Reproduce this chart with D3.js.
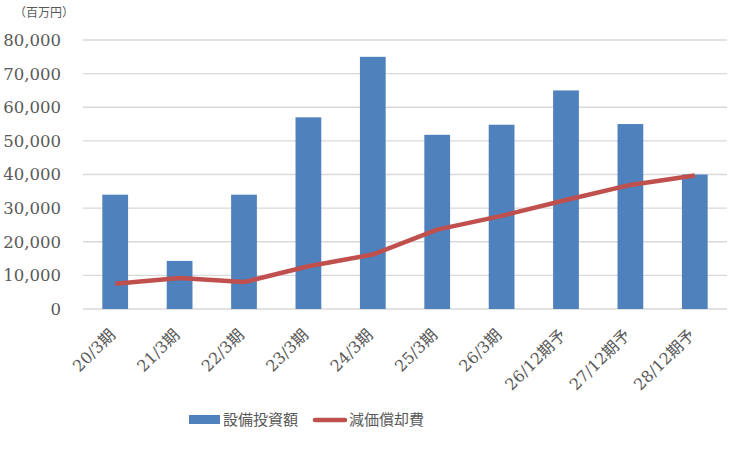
<!DOCTYPE html>
<html>
<head>
<meta charset="utf-8">
<script src="https://cdn.jsdelivr.net/npm/d3@7"></script>
<style>
	body { margin: 0; background: #fff; }
	text { fill: #595959; }
</style>
</head>
<body>
<div id="chart"></div>
<script>
// data
var categories = ['20/3期', '21/3期', '22/3期', '23/3期', '24/3期', '25/3期', '26/3期', '26/12期予', '27/12期予', '28/12期予']
var capex = [34000, 14300, 34000, 57000, 75000, 51800, 54800, 65000, 55000, 40000]
var depreciation = [7500, 9200, 8000, 12700, 16200, 23600, 27700, 32400, 36900, 39700]
var yTicks = [0, 10000, 20000, 30000, 40000, 50000, 60000, 70000, 80000]
var seriesNames = ['設備投資額', '減価償却費']

var width = 750
var height = 450
var plot = { left: 83, right: 727, top: 40, bottom: 309 }
var serif = '"DejaVu Serif", "Liberation Serif", serif'
var jp = '"Noto Sans CJK JP", sans-serif'

var svg = d3.select('#chart').append('svg')
	.attr('width', width)
	.attr('height', height)

var x = d3.scaleBand()
	.domain(categories)
	.range([plot.left, plot.right])
	.paddingInner(0.6)
	.paddingOuter(0.3)

var y = d3.scaleLinear()
	.domain([0, 80000])
	.range([plot.bottom, plot.top])

// gridlines
svg.append('g')
	.selectAll('line')
	.data(yTicks)
	.enter().append('line')
		.attr('x1', plot.left)
		.attr('x2', plot.right)
		.attr('y1', function(d) { return y(d) })
		.attr('y2', function(d) { return y(d) })
		.attr('stroke', '#d9d9d9')
		.attr('stroke-width', 1.3)

// y labels
svg.append('g')
	.selectAll('text')
	.data(yTicks)
	.enter().append('text')
		.attr('x', 61)
		.attr('y', function(d) { return y(d) })
		.attr('dy', '0.36em')
		.attr('text-anchor', 'end')
		.attr('font-family', serif)
		.attr('font-size', 16.5)
		.text(function(d) { return d3.format(',')(d) })

svg.append('text')
	.attr('x', 14)
	.attr('y', 17)
	.attr('font-family', jp)
	.attr('font-size', 12)
	.text('（百万円）')

// bars
svg.append('g')
	.selectAll('rect')
	.data(capex)
	.enter().append('rect')
		.attr('x', function(d, i) { return x(categories[i]) })
		.attr('y', function(d) { return y(d) })
		.attr('width', x.bandwidth())
		.attr('height', function(d) { return y(0) - y(d) })
		.attr('fill', '#4f81bd')

// line
var line = d3.line()
	.x(function(d, i) { return x(categories[i]) + x.bandwidth() / 2 })
	.y(function(d) { return y(d) })

svg.append('path')
	.datum(depreciation)
	.attr('d', line)
	.attr('fill', 'none')
	.attr('stroke', '#c0504d')
	.attr('stroke-width', 4.5)
	.attr('stroke-linejoin', 'round')

// x labels, rotated
svg.append('g')
	.selectAll('text')
	.data(categories)
	.enter().append('text')
		.attr('transform', function(d) {
			var cx = x(d) + x.bandwidth() / 2
			return 'translate(' + (cx + 1) + ',' + 336 + ') rotate(-45)'
		})
		.attr('text-anchor', 'end')
		.attr('font-size', 16)
		.each(function(d) {
			var m = d.match(/^([0-9\/]+)(.*)$/)
			var t = d3.select(this)
			t.append('tspan').attr('font-family', serif).text(m[1])
			t.append('tspan').attr('font-family', jp).text(m[2])
		})

// legend
var legend = svg.append('g')
legend.append('rect')
	.attr('x', 189).attr('y', 415)
	.attr('width', 31).attr('height', 9)
	.attr('fill', '#4f81bd')
legend.append('text')
	.attr('x', 223).attr('y', 420)
	.attr('dy', '0.36em')
	.attr('font-family', jp)
	.attr('font-size', 15)
	.text(seriesNames[0])
legend.append('line')
	.attr('x1', 315).attr('x2', 345)
	.attr('y1', 420).attr('y2', 420)
	.attr('stroke', '#c0504d')
	.attr('stroke-width', 4.5)
	.attr('stroke-linecap', 'round')
legend.append('text')
	.attr('x', 349).attr('y', 420)
	.attr('dy', '0.36em')
	.attr('font-family', jp)
	.attr('font-size', 15)
	.text(seriesNames[1])
</script>
</body>
</html>
